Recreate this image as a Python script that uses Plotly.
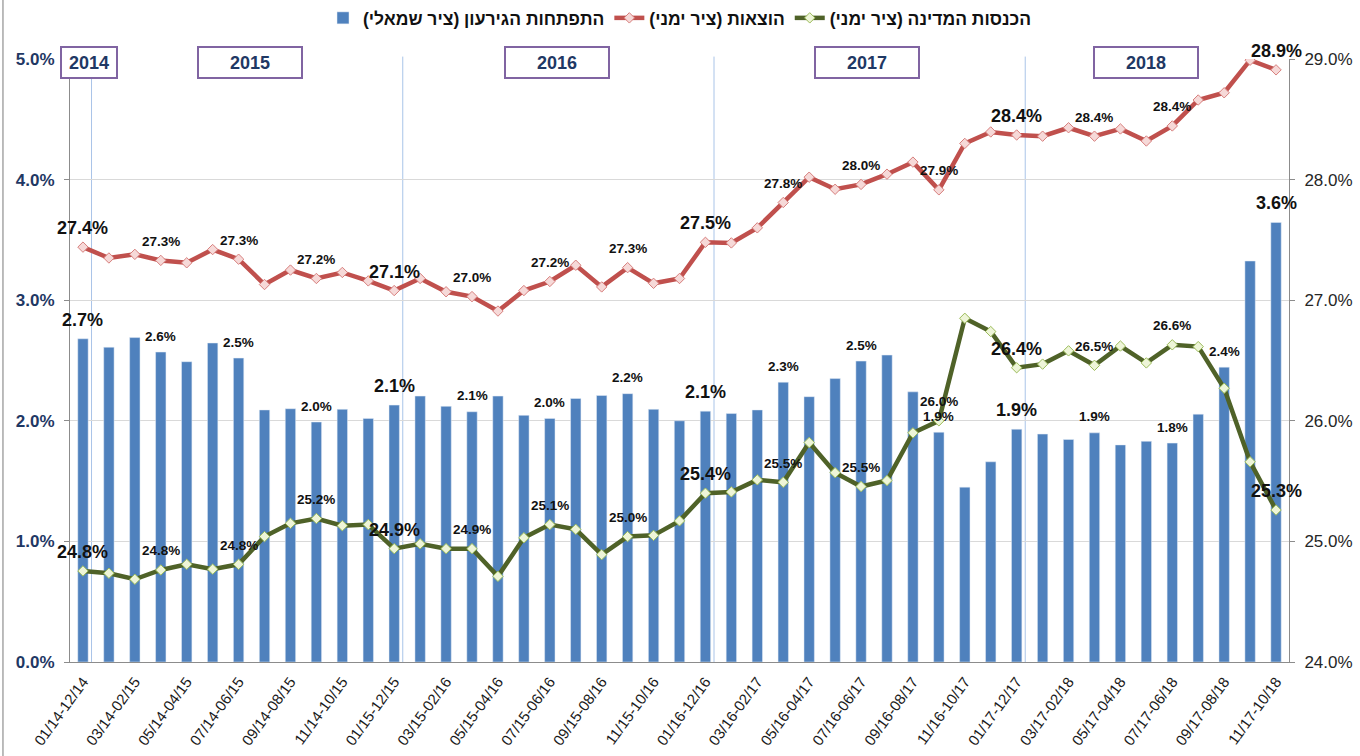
import plotly.graph_objects as go

# ---------------- data ----------------
periods = [
    "01/14-12/14", "02/14-01/15", "03/14-02/15", "04/14-03/15", "05/14-04/15", "06/14-05/15",
    "07/14-06/15", "08/14-07/15", "09/14-08/15", "10/14-09/15", "11/14-10/15", "12/14-11/15",
    "01/15-12/15", "02/15-01/16", "03/15-02/16", "04/15-03/16", "05/15-04/16", "06/15-05/16",
    "07/15-06/16", "08/15-07/16", "09/15-08/16", "10/15-09/16", "11/15-10/16", "12/15-11/16",
    "01/16-12/16", "02/16-01/17", "03/16-02/17", "04/16-03/17", "05/16-04/17", "06/16-05/17",
    "07/16-06/17", "08/16-07/17", "09/16-08/17", "10/16-09/17", "11/16-10/17", "12/16-11/17",
    "01/17-12/17", "02/17-01/18", "03/17-02/18", "04/17-03/18", "05/17-04/18", "06/17-05/18",
    "07/17-06/18", "08/17-07/18", "09/17-08/18", "10/17-09/18", "11/17-10/18",
]

# deficit, % of GDP (left axis)
deficit = [2.68, 2.61, 2.69, 2.57, 2.49, 2.645, 2.52, 2.09, 2.10, 1.99, 2.095, 2.02, 2.13, 2.205, 2.12,
           2.075, 2.205, 2.045, 2.02, 2.185, 2.21, 2.225, 2.095, 2.00, 2.08, 2.06, 2.09, 2.32, 2.20,
           2.35, 2.495, 2.545,
           2.24, 1.905, 1.45, 1.66, 1.93, 1.89, 1.845, 1.90, 1.80, 1.83, 1.815, 2.055, 2.445, 3.325, 3.645]

# expenditure, % of GDP (right axis)
expenses = [27.44, 27.35, 27.38, 27.33, 27.31, 27.42, 27.34, 27.13, 27.25, 27.18, 27.23, 27.16, 27.08,
            27.18, 27.07,
            27.03, 26.91, 27.08, 27.155, 27.29, 27.11, 27.27, 27.14, 27.18, 27.48, 27.475, 27.60, 27.81,
            28.02, 27.92, 27.96, 28.045,
            28.145, 27.915, 28.30, 28.395, 28.37, 28.36, 28.43, 28.36, 28.42, 28.32, 28.445, 28.66,
            28.72, 28.99, 28.91]

# revenues, % of GDP (right axis)
revenues = [24.755, 24.736, 24.686, 24.763, 24.81, 24.77, 24.81, 25.04, 25.15, 25.19, 25.13, 25.14,
            24.94, 24.98, 24.94,
            24.94, 24.71, 25.03, 25.14, 25.10, 24.89, 25.04, 25.05, 25.17, 25.40, 25.41, 25.51, 25.49,
            25.82, 25.57, 25.455, 25.505,
            25.90, 26.00, 26.85, 26.74, 26.44, 26.47, 26.58, 26.46, 26.62, 26.48, 26.63, 26.615,
            26.27, 25.66, 25.26]

# data labels
bar_label_idx = [0, 3, 6, 9, 12, 15, 18, 21, 24, 27, 30, 33, 36, 39, 42, 44, 46]
bar_label_txt = ["2.7%", "2.6%", "2.5%", "2.0%", "2.1%", "2.1%", "2.0%", "2.2%", "2.1%", "2.3%",
                 "2.5%", "1.9%", "1.9%", "1.9%", "1.8%", "2.4%", "3.6%"]
exp_label_idx = [0, 3, 6, 9, 12, 15, 18, 21, 24, 27, 30, 33, 36, 39, 42, 46]
exp_label_txt = ["27.4%", "27.3%", "27.3%", "27.2%", "27.1%", "27.0%", "27.2%", "27.3%", "27.5%",
                 "27.8%", "28.0%", "27.9%", "28.4%", "28.4%", "28.4%", "28.9%"]
rev_label_idx = [0, 3, 6, 9, 12, 15, 18, 21, 24, 27, 30, 33, 36, 39, 42, 46]
rev_label_txt = ["24.8%", "24.8%", "24.8%", "25.2%", "24.9%", "24.9%", "25.1%", "25.0%", "25.4%",
                 "25.5%", "25.5%", "26.0%", "26.4%", "26.5%", "26.6%", "25.3%"]
big_label_idx = [0, 12, 24, 36, 46]

years = ["2014", "2015", "2016", "2017", "2018"]
year_break_idx = [0, 12, 24, 36]

name_deficit = "\u200fהתפתחות הגירעון (ציר שמאלי)\u200f"
name_expenses = "\u200fהוצאות (ציר ימני)\u200f"
name_revenues = "\u200fהכנסות המדינה (ציר ימני)\u200f"

# ---------------- style ----------------
SANS = "Liberation Sans, Arial, sans-serif"
NAVY = "#1F3864"

fig = go.Figure()
fig.add_trace(go.Bar(
    x=periods, y=deficit, name=name_deficit, marker_color="#4F81BD", width=0.4,
    yaxis="y",
))
fig.add_trace(go.Scatter(
    x=periods, y=expenses, name=name_expenses, mode="lines+markers", yaxis="y2",
    line=dict(color="#C0504D", width=4.5),
    marker=dict(symbol="diamond", size=8, color="#F6D9D8", line=dict(color="#D77F7D", width=1)),
))
fig.add_trace(go.Scatter(
    x=periods, y=revenues, name=name_revenues, mode="lines+markers", yaxis="y2",
    line=dict(color="#4F6228", width=4.5),
    marker=dict(symbol="diamond", size=8, color="#EEF5D8", line=dict(color="#9BBB59", width=1)),
))

annotations = []


def add_labels(idx_list, txt_list, values, yref, shift_small, shift_big):
    for i, t in zip(idx_list, txt_list):
        big = i in big_label_idx
        annotations.append(dict(
            x=periods[i], y=values[i], xref="x", yref=yref, text="<b>%s</b>" % t,
            showarrow=False, xanchor="center", yanchor="middle",
            yshift=shift_big if big else shift_small,
            font=dict(family=SANS, size=18 if big else 13.5, color="#111111"),
        ))


add_labels(bar_label_idx, bar_label_txt, deficit, "y", 16, 19)
add_labels(exp_label_idx, exp_label_txt, expenses, "y2", 19, 19)
add_labels(rev_label_idx, rev_label_txt, revenues, "y2", 19, 19)

# year boxes
year_pos = [0.23, 6.43, 18.28, 30.22, 40.97]
year_w = [52, 100, 100, 100, 100]
for yr, xp, w in zip(years, year_pos, year_w):
    annotations.append(dict(
        x=xp, y=0.995, xref="x", yref="paper", text="<b>%s</b>" % yr, showarrow=False,
        xanchor="center", yanchor="middle", width=w, height=27, borderpad=1,
        bordercolor="#8064A2", borderwidth=2, bgcolor="white",
        font=dict(family=SANS, size=18, color=NAVY),
    ))

shapes = []
for b in year_break_idx:
    shapes.append(dict(type="line", xref="x", yref="paper", x0=b + 0.33, x1=b + 0.33, y0=0, y1=1.004,
                       line=dict(color="#A9C4E8", width=1), layer="below"))
shapes.append(dict(type="line", xref="paper", yref="paper", x0=-0.055, x1=-0.055, y0=-0.16, y1=1.1,
                   line=dict(color="#A6A6A6", width=1.5)))

fig.update_layout(
    width=1360, height=756,
    margin=dict(l=70, r=71, t=59, b=94, autoexpand=False),
    paper_bgcolor="white", plot_bgcolor="white",
    showlegend=True,
    legend=dict(orientation="h", x=0.5, xanchor="center", y=1.068, yanchor="middle",
                font=dict(family=SANS, size=17.5, color="#111111", weight="bold"), itemwidth=30,
                bgcolor="rgba(0,0,0,0)"),
    xaxis=dict(
        type="category", range=[-0.5, 46.5], tickvals=periods[::2], ticktext=periods[::2],
        tickangle=-54, tickfont=dict(family=SANS, size=15, color="#1A1A1A"),
        ticklabelstandoff=4,
        showline=True, linecolor="#8C8C8C", linewidth=1, ticks="", showgrid=False,
    ),
    yaxis=dict(
        range=[0, 5], dtick=1, tickformat=".1f", ticksuffix="%",
        tickfont=dict(family=SANS, size=17, color=NAVY, weight="bold"),
        ticklabelstandoff=6,
        showgrid=True, gridcolor="#D9D9D9", gridwidth=1,
        showline=True, linecolor="#8C8C8C", ticks="outside", ticklen=5, tickcolor="#8C8C8C",
        zeroline=False,
    ),
    yaxis2=dict(
        range=[24, 29], dtick=1, tickformat=".1f", ticksuffix="%", overlaying="y", side="right",
        tickfont=dict(family=SANS, size=17, color="#262626"),
        ticklabelstandoff=6,
        showgrid=False, showline=True, linecolor="#8C8C8C", ticks="outside", ticklen=5,
        tickcolor="#8C8C8C", zeroline=False,
    ),
    annotations=annotations,
    shapes=shapes,
    bargap=0.6,
)

fig.write_html("out.html", config={"displayModeBar": False},
               post_script="document.body.style.margin='0';")
